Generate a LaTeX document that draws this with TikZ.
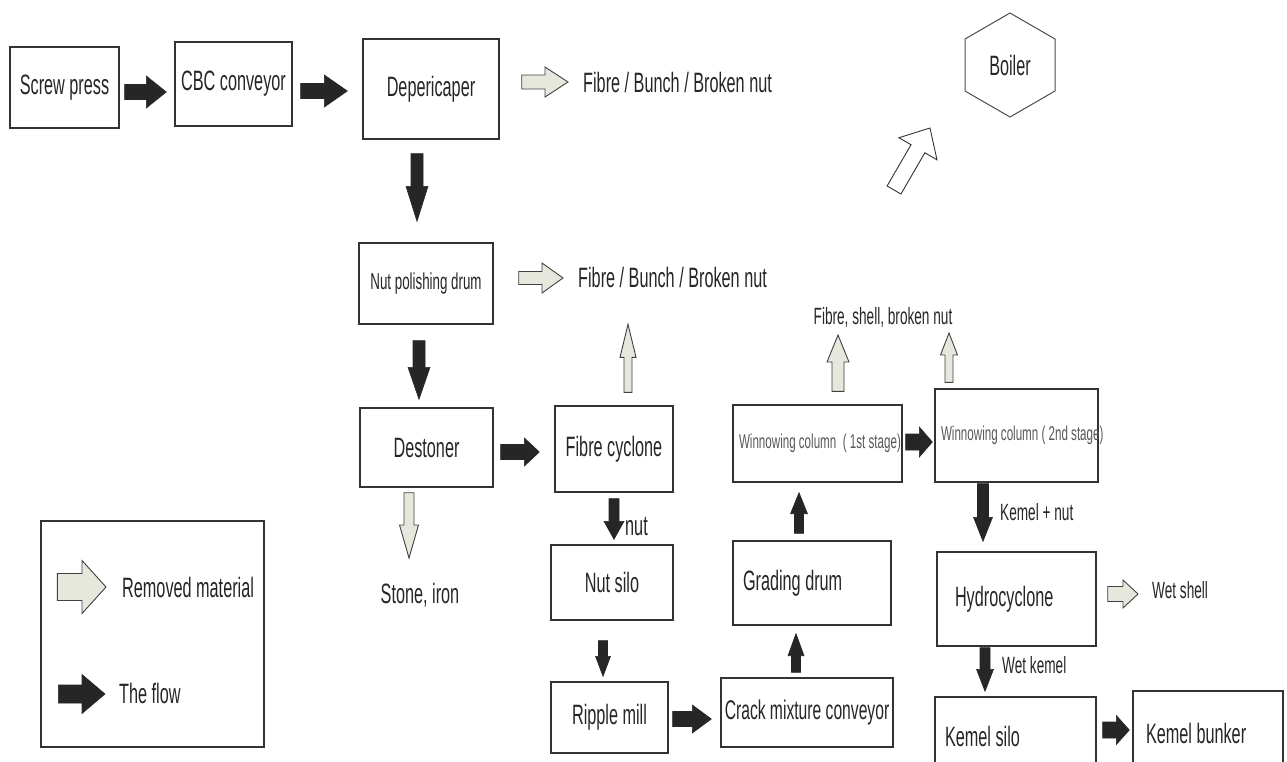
\documentclass[tikz,border=0pt]{standalone}
\usepackage{fontspec}
\setmainfont[FakeStretch=0.58]{Liberation Sans}
\usetikzlibrary{calc}
\newcommand{\fs}[1]{\fontsize{#1}{#1}\selectfont}
% block arrow: style, tail, tip, shaft half-width, head half-width, head length
\newcommand{\barrow}[6]{%
  \coordinate (ba-s) at #2;
  \coordinate (ba-t) at #3;
  \coordinate (ba-b) at ($(ba-t)!#6!(ba-s)$);
  \path[#1] ($(ba-s)!#4!90:(ba-t)$) -- ($(ba-b)!#4!90:(ba-t)$) -- ($(ba-b)!#5!90:(ba-t)$)
    -- (ba-t) -- ($(ba-b)!#5!-90:(ba-t)$) -- ($(ba-b)!#4!-90:(ba-t)$) -- ($(ba-s)!#4!-90:(ba-t)$) -- cycle;
}
\tikzset{
  box/.style={draw=black!80, line width=1.4pt, inner sep=0pt, text=black!85, font={\fs{28}}},
  lbox/.style={box, align=flush left},
  lbl/.style={inner sep=0pt, text=black!85, font={\fs{28}}},
  slbl/.style={inner sep=0pt, text=black!85, font={\fs{23.5}}},
  flowarrow/.style={fill=black!85, draw=black!85, line width=0.6pt},
  removedarrow/.style={fill={rgb,255:red,230;green,232;blue,222}, draw=black!75, line width=0.9pt},
  hollowarrow/.style={fill=white, draw=black!80, line width=0.9pt},
}
\begin{document}
\begin{tikzpicture}[x=1pt,y=1pt]
\fill[white] (0,0) rectangle (1287,-761);
\clip (0,0) rectangle (1287,-761);

% boxes
\node[box, minimum width=109pt, minimum height=81pt] (screw) at (64.5,-87.5) {Screw press};
\node[box, minimum width=117pt, minimum height=84pt] (cbc) at (233.5,-84) {CBC conveyor};
\node[box, minimum width=136pt, minimum height=100pt] (dep) at (431,-89) {Depericaper};
\node[box, minimum width=134pt, minimum height=81pt, font={\fs{23}}] (npd) at (426,-283.5) {Nut polishing drum};
\node[box, minimum width=133pt, minimum height=79pt] (dest) at (426.5,-447.5) {Destoner};
\node[box, minimum width=118pt, minimum height=86pt] (fcyc) at (614,-449) {Fibre cyclone};
\node[box, minimum width=122pt, minimum height=75pt] (nsilo) at (612,-582.5) {Nut silo};
\node[box, minimum width=117pt, minimum height=71pt] (ripple) at (609.5,-717.5) {Ripple mill};
\node[box, minimum width=172pt, minimum height=69pt, font={\fs{27}}] (crack) at (807,-712.5) {Crack mixture conveyor};
\node[lbox, minimum height=84pt, text width=138pt, inner xsep=10pt] (grading) at (812,-583) {\mbox{Grading drum}};
\node[lbox, minimum height=77pt, text width=157pt, inner xsep=6pt, font={\fs{20}}, text=black!65] (win1) at (817.5,-443.5) {\mbox{Winnowing column \,( 1st stage)}};
\node[lbox, minimum height=93pt, text width=151pt, inner xsep=6pt, font={\fs{20}}, text=black!65] (win2) at (1016.5,-435.5) {\mbox{Winnowing column ( 2nd stage)}};
\node[lbox, minimum height=94pt, text width=123pt, inner xsep=18pt] (hydro) at (1016.5,-599) {\mbox{Hydrocyclone}};
\node[lbox, minimum height=78pt, text width=141pt, inner xsep=10pt] (ksilo) at (1015.5,-736) {\mbox{Kemel silo}};
\node[lbox, minimum height=84pt, text width=124pt, inner xsep=13pt] (kbunker) at (1208,-733) {\mbox{Kemel bunker}};
\node[box, minimum width=223pt, minimum height=226pt] (legend) at (152.5,-634) {};

% boiler
\node[lbl] (boiler) at (1010,-65) {Boiler};
\draw[draw=black!70, line width=1pt] ($(boiler)+(0,52)$) -- ($(boiler)+(45,26)$) -- ($(boiler)+(45,-26)$)
  -- ($(boiler)+(0,-52)$) -- ($(boiler)+(-45,-26)$) -- ($(boiler)+(-45,26)$) -- cycle;

% free labels
\node[lbl, anchor=west] (fib1) at (583,-82) {Fibre / Bunch / Broken nut};
\node[lbl, anchor=west] (fib2) at (578,-277) {Fibre / Bunch / Broken nut};
\node[slbl] (fsb) at (883,-317) {Fibre, shell, broken nut};
\node[lbl] (stone) at (420,-595) {Stone, iron};
\node[lbl, anchor=west] (nutl) at (625,-527) {nut};
\node[slbl, anchor=west] (kn) at (1000,-512) {Kemel + nut};
\node[slbl, anchor=west] (wetshell) at (1152,-590) {Wet shell};
\node[slbl, anchor=west] (wk) at (1002,-665) {Wet kemel};
\node[lbl, anchor=west] (rm) at (122,-587) {Removed material};
\node[lbl, anchor=west] (tf) at (119,-693) {The flow};

% flow arrows
\barrow{flowarrow}{($(screw.east)+(5,-4.5)$)}{($(cbc.west)+(-8,-8)$)}{7.5pt}{16pt}{20pt}
\barrow{flowarrow}{($(cbc.east)+(8,-7)$)}{($(dep.west)+(-15,-2)$)}{7.5pt}{16pt}{23pt}
\barrow{flowarrow}{($(dep.south)+(-14,-14)$)}{($(npd.north)+(-9,21)$)}{6pt}{11pt}{35pt}
\barrow{flowarrow}{($(npd.south)+(-7,-16)$)}{($(dest.north)+(-7.5,8)$)}{6pt}{11pt}{32pt}
\barrow{flowarrow}{($(dest.east)+(7,-4.5)$)}{($(fcyc.west)+(-15,-3)$)}{7.5pt}{14pt}{15pt}
\barrow{flowarrow}{($(fcyc.south)+(0,-6)$)}{($(nsilo.north)+(2,5)$)}{5pt}{10pt}{18pt}
\barrow{flowarrow}{($(nsilo.south)+(-9,-20)$)}{($(ripple.north)+(-6.5,5)$)}{4.5pt}{7.5pt}{20pt}
\barrow{flowarrow}{($(ripple.east)+(4,-1.5)$)}{($(crack.west)+(-9,-6.5)$)}{7.5pt}{14pt}{19pt}
\barrow{flowarrow}{($(crack.north)+(-11,5)$)}{($(grading.south)+(-16,-8)$)}{4.5pt}{8pt}{22pt}
\barrow{flowarrow}{($(grading.north)+(-13,7)$)}{($(win1.south)+(-18.5,-10)$)}{4.5pt}{8.5pt}{21pt}
\barrow{flowarrow}{($(win1.east)+(3,1.5)$)}{($(win2.west)+(-2,-6.5)$)}{8pt}{15pt}{13pt}
\barrow{flowarrow}{($(win2.south)+(-33.5,-1)$)}{($(hydro.north)+(-33.5,10)$)}{5.5pt}{9.5pt}{24pt}
\barrow{flowarrow}{($(hydro.south)+(-31.5,-1)$)}{($(ksilo.north)+(-30.5,5)$)}{5pt}{8.5pt}{22pt}
\barrow{flowarrow}{($(ksilo.east)+(6,6)$)}{($(kbunker.west)+(-3,3)$)}{8pt}{14.5pt}{13pt}

% removed-material arrows
\barrow{removedarrow}{($(dep.east)+(22,7)$)}{($(fib1.west)+(-15,0)$)}{7pt}{15pt}{23pt}
\barrow{removedarrow}{($(npd.east)+(25,5.5)$)}{($(fib2.west)+(-15,-1)$)}{6.5pt}{15pt}{21pt}
\barrow{removedarrow}{($(dest.south)+(-17.5,-5)$)}{($(stone.center)+(-11,37)$)}{5pt}{9.5pt}{33pt}
\barrow{removedarrow}{($(fcyc.north)+(14,13)$)}{($(fcyc.north)+(14,81)$)}{4pt}{8pt}{33pt}
\barrow{removedarrow}{($(win1.north)+(20.5,13)$)}{($(fsb.center)+(-45,-18)$)}{6pt}{11pt}{27pt}
\barrow{removedarrow}{($(win2.north)+(-67.5,6)$)}{($(fsb.center)+(66,-16)$)}{4pt}{8.5pt}{22pt}
\barrow{removedarrow}{($(hydro.east)+(11,5)$)}{($(wetshell.west)+(-14,-4)$)}{7.5pt}{14pt}{15pt}

% boiler arrow
\barrow{hollowarrow}{($(boiler)+(-116,-125)$)}{($(boiler)+(-80,-63)$)}{8pt}{22pt}{24pt}

% legend arrows
\barrow{removedarrow}{($(legend.west)+(17,47)$)}{($(rm.west)+(-16,0)$)}{13.5pt}{26.5pt}{24pt}
\barrow{flowarrow}{($(legend.west)+(18,-60)$)}{($(tf.west)+(-14,-1)$)}{9pt}{19.5pt}{23pt}
\end{tikzpicture}
\end{document}
